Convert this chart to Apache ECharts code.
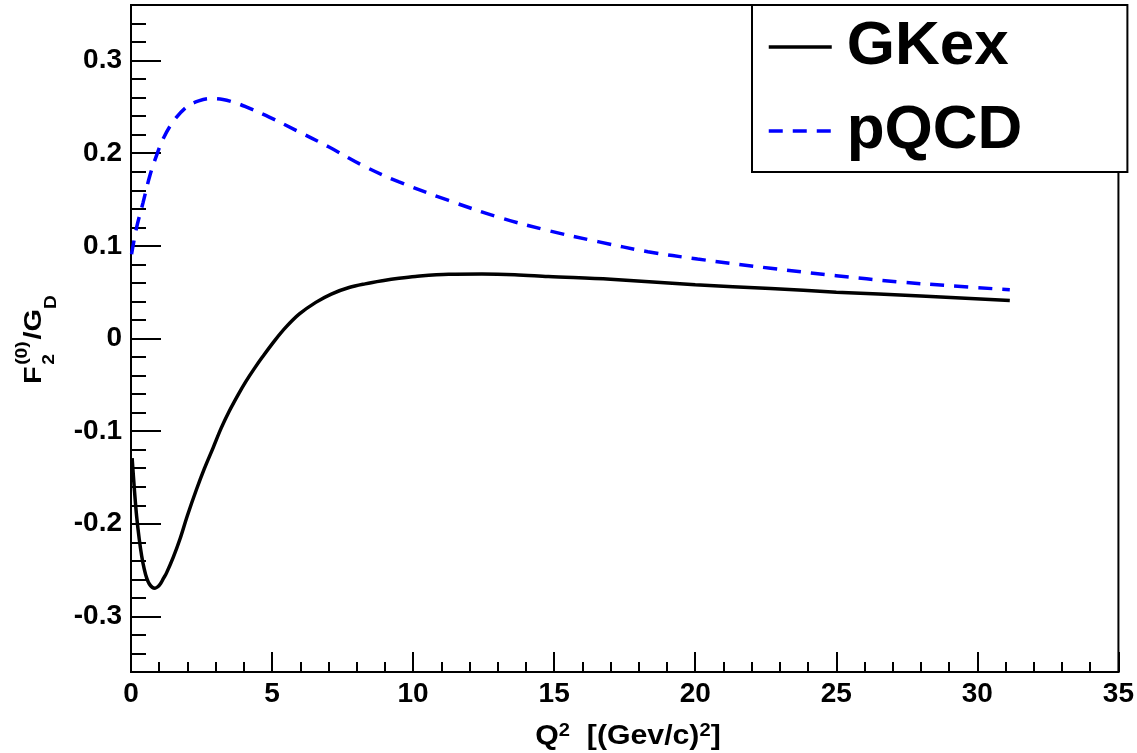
<!DOCTYPE html>
<html>
<head>
<meta charset="utf-8">
<script src="https://cdn.jsdelivr.net/npm/echarts@6/dist/echarts.min.js"></script>
<style>html,body{margin:0;padding:0;background:#fff;}#chart{width:1137px;height:753px;}</style>
</head>
<body>
<div id="chart"></div>
<script>
// ---- data ----
const gkexQ  = [0.04, 0.12, 0.2, 0.29, 0.38, 0.47, 0.56, 0.65, 0.75, 0.85, 0.95, 1.05, 1.15, 1.26, 1.5, 1.73, 2.0, 2.32, 2.6, 2.91, 3.2, 3.49, 3.8, 4.08, 4.37, 4.67, 5.1, 5.5, 5.97, 6.55, 7.1, 7.73, 8.3, 8.91, 9.5, 10.08, 11.26, 12.44, 13.6, 14.79, 17, 20, 22.67, 25, 28, 31.15];
const gkexF2 = [-0.129, -0.163, -0.192, -0.216, -0.235, -0.249, -0.259, -0.265, -0.2685, -0.2695, -0.268, -0.2645, -0.259, -0.253, -0.236, -0.217, -0.191, -0.163, -0.1405, -0.118, -0.0965, -0.078, -0.0605, -0.046, -0.0325, -0.0195, -0.002, 0.0125, 0.0265, 0.039, 0.048, 0.055, 0.059, 0.0623, 0.065, 0.067, 0.0693, 0.0696, 0.0689, 0.067, 0.064, 0.058, 0.054, 0.050, 0.046, 0.041];
const pqcdQ  = [0.02, 0.2, 0.43, 0.67, 0.91, 1.14, 1.49, 1.97, 2.4, 2.79, 3.26, 3.7, 4.08, 4.9, 5.85, 7.02, 8.2, 9.5, 11.26, 13.02, 14.79, 16.55, 18.32, 20.08, 22.67, 25, 27.14, 29, 31.15];
const pqcdF2 = [0.091, 0.120, 0.147, 0.176, 0.198, 0.2157, 0.234, 0.250, 0.2565, 0.259, 0.258, 0.2545, 0.250, 0.239, 0.2247, 0.2067, 0.187, 0.169, 0.149, 0.131, 0.1165, 0.1046, 0.0937, 0.0858, 0.0758, 0.0678, 0.0613, 0.057, 0.0526];
const seriesNames = ['GKex', 'pQCD'];
const yTickValues = [-0.3, -0.2, -0.1, 0, 0.1, 0.2, 0.3];
const xRange = [0, 35];
const yRange = [-0.36, 0.36];

const FONT = '"Liberation Sans", Arial, Helvetica, sans-serif';
const zip = (a, b) => a.map((v, i) => [v, b[i]]);

const chart = echarts.init(document.getElementById('chart'), null, {renderer: 'canvas'});
const axisLine = {show: true, onZero: false, lineStyle: {color: '#000', width: 2}};

chart.setOption({
  animation: false,
  backgroundColor: '#fff',
  grid: {left: 131, right: 15, top: 5, bottom: 81, show: true, borderColor: '#000', borderWidth: 2, backgroundColor: 'transparent'},
  xAxis: {
    type: 'value', min: xRange[0], max: xRange[1], interval: 5,
    axisLine: axisLine,
    axisTick: {show: true, inside: true, length: 20, lineStyle: {color: '#000', width: 2}},
    minorTick: {show: true, splitNumber: 5, length: 10, lineStyle: {color: '#000', width: 2}},
    splitLine: {show: false},
    axisLabel: {color: '#000', fontFamily: FONT, fontWeight: 'bold', fontSize: 28, margin: 8}
  },
  yAxis: [
    {
      type: 'value', min: yRange[0], max: yRange[1], interval: 0.02, position: 'left',
      axisLine: axisLine,
      axisTick: {show: true, inside: true, length: 15, lineStyle: {color: '#000', width: 2}},
      axisLabel: {show: false},
      splitLine: {show: false}
    },
    {
      type: 'value', min: yRange[0], max: yRange[1], position: 'left',
      axisLine: axisLine,
      axisTick: {show: true, inside: true, length: 30, customValues: yTickValues, lineStyle: {color: '#000', width: 2}},
      axisLabel: {show: true, customValues: yTickValues, color: '#000', fontFamily: FONT, fontWeight: 'bold', fontSize: 28, margin: 9,
        formatter: v => String(Math.round(v * 10) / 10)},
      splitLine: {show: false}
    }
  ],
  legend: {
    data: seriesNames, orient: 'vertical', left: 752, top: 5,
    padding: [11, 105, 10, 15], itemGap: 22, itemWidth: 63, itemHeight: 20,
    backgroundColor: '#fff', borderColor: '#000', borderWidth: 2, borderRadius: 0,
    itemStyle: {opacity: 0},
    lineStyle: {width: 3.5},
    textStyle: {color: '#000', fontFamily: FONT, fontWeight: 'bold', fontSize: 62, lineHeight: 62, padding: [0, 0, 0, 10]}
  },
  series: [
    {name: seriesNames[0], type: 'line', yAxisIndex: 0, data: zip(gkexQ, gkexF2), symbol: 'none', smooth: 0.35,
      lineStyle: {color: '#000', width: 3.5}, itemStyle: {color: '#000'}},
    {name: seriesNames[1], type: 'line', yAxisIndex: 0, data: zip(pqcdQ, pqcdF2), symbol: 'none', smooth: 0.35,
      lineStyle: {color: '#0000ff', width: 3.5, type: [14, 10]}, itemStyle: {color: '#0000ff'}}
  ],
  graphic: [
    {
      type: 'text', x: 628, y: 737, scaleX: 1.12, silent: true,
      style: {
        text: '{m|Q}{s|2}{m|  [(Gev/c)}{s|2}{m|]}',
        align: 'center', verticalAlign: 'middle', fill: '#000',
        rich: {
          m: {fontFamily: FONT, fontWeight: 'bold', fontSize: 27, lineHeight: 30, fill: '#000'},
          s: {fontFamily: FONT, fontWeight: 'bold', fontSize: 18, lineHeight: 14, fill: '#000', verticalAlign: 'top'}
        }
      }
    },
    {
      type: 'group', x: 34, y: 384, rotation: Math.PI / 2, scaleX: 1.2, silent: true,
      children: [
        {type: 'text', x: 0, y: 0, style: {text: 'F', fontFamily: FONT, fontWeight: 'bold', fontSize: 24, fill: '#000', verticalAlign: 'middle', align: 'left'}},
        {type: 'text', x: 16, y: -11, style: {text: '(0)', fontFamily: FONT, fontWeight: 'bold', fontSize: 16, fill: '#000', verticalAlign: 'middle', align: 'left'}},
        {type: 'text', x: 16, y: 16, style: {text: '2', fontFamily: FONT, fontWeight: 'bold', fontSize: 16, fill: '#000', verticalAlign: 'middle', align: 'left'}},
        {type: 'text', x: 37, y: 0, style: {text: '/G', fontFamily: FONT, fontWeight: 'bold', fontSize: 24, fill: '#000', verticalAlign: 'middle', align: 'left'}},
        {type: 'text', x: 62.5, y: 18, style: {text: 'D', fontFamily: FONT, fontWeight: 'bold', fontSize: 16, fill: '#000', verticalAlign: 'middle', align: 'left'}}
      ]
    }
  ]
});
</script>
</body>
</html>
